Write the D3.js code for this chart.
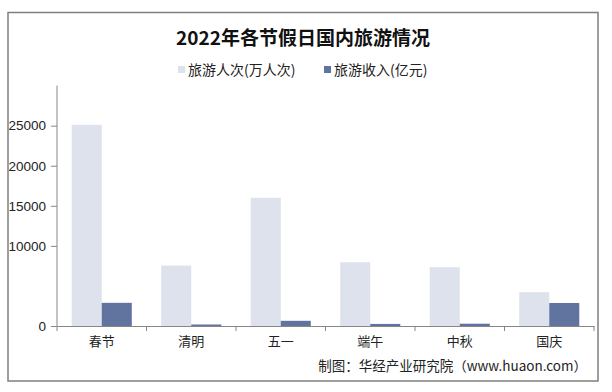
<!DOCTYPE html>
<html><head><meta charset="utf-8">
<script src="https://cdn.jsdelivr.net/npm/d3@7"></script>
<style>
body{margin:0;background:#fff;}
svg{display:block;}
</style></head>
<body>
<svg id="chart" width="612" height="392"></svg>
<script>
const categories = ["春节","清明","五一","端午","中秋","国庆"];
const visitors = [25100, 7541.9, 16000, 7961.1, 7340.9, 4220];
const revenue = [2892, 187.8, 646.8, 258.2, 286.8, 2872.1];
const seriesNames = ["旅游人次(万人次)","旅游收入(亿元)"];
const yTicks = [0, 10000, 15000, 20000, 25000];
const colors = ["#dde2ec", "#61749f"];

const svg = d3.select("#chart");
const W = 612, H = 392;
svg.append("rect").attr("width", W).attr("height", H).attr("fill", "#fff");
svg.append("rect").attr("x", 8).attr("y", 12.5).attr("width", 590).attr("height", 368.5)
  .attr("fill", "none").attr("stroke", "#7f7f7f").attr("stroke-width", 1.5);

const m = {left: 57, right: 594, top: 85.6, bottom: 326};
const x0 = d3.scaleBand().domain(categories).range([m.left, m.right]).padding(0);
const x1 = d3.scaleBand().domain([0,1]).range([0, x0.bandwidth()]).paddingInner(0).paddingOuter(0.49);
const y = d3.scaleLinear().domain([0, 30000]).range([m.bottom, m.top]);

const data = categories.map((c, i) => ({c, v: [visitors[i], revenue[i]]}));

const g = svg.append("g");
g.selectAll("g.cat").data(data).join("g").attr("class", "cat")
  .attr("transform", d => `translate(${x0(d.c)},0)`)
  .selectAll("rect").data(d => d.v.map((v, k) => ({v, k}))).join("rect")
  .attr("x", d => x1(d.k)).attr("width", x1.bandwidth())
  .attr("y", d => y(d.v)).attr("height", d => y(0) - y(d.v))
  .attr("fill", d => colors[d.k]);

// y axis
const yAxis = d3.axisLeft(y).tickValues(yTicks).tickSize(6).tickPadding(5).tickFormat(d3.format("d"));
const ya = svg.append("g").attr("transform", `translate(${m.left},0)`).call(yAxis);
ya.select(".domain").attr("stroke", "#868686").attr("d", `M-0,${m.top}V${m.bottom}`);
ya.selectAll(".tick line").attr("stroke", "#868686");
ya.selectAll("text").attr("font-family", "Liberation Sans, Arial, sans-serif").attr("font-size", 13.5).attr("fill", "#222");

// x axis
const xAxis = d3.axisBottom(x0).tickSize(0).tickPadding(11);
const xa = svg.append("g").attr("transform", `translate(0,${m.bottom})`).call(xAxis);
xa.select(".domain").attr("stroke", "#868686");
xa.selectAll("text").attr("font-family", "Noto Sans CJK SC, sans-serif").attr("font-size", 13).attr("fill", "#222");
xa.selectAll(".bt").data(d3.range(categories.length + 1)).join("line").attr("class", "bt")
  .attr("x1", i => m.left + i * x0.step()).attr("x2", i => m.left + i * x0.step())
  .attr("y1", 0).attr("y2", 5).attr("stroke", "#868686");

// title
svg.append("text").attr("x", 303).attr("y", 45).attr("text-anchor", "middle")
  .attr("font-family", "Noto Sans CJK SC, sans-serif").attr("font-weight", "bold")
  .attr("font-size", 19).attr("fill", "#111").text("2022年各节假日国内旅游情况");

// legend
const legX = [178, 324];
seriesNames.forEach((n, k) => {
  svg.append("rect").attr("x", legX[k]).attr("y", 66).attr("width", 7).attr("height", 7).attr("fill", colors[k]);
  svg.append("text").attr("x", legX[k] + 10).attr("y", 75).attr("font-family", "Noto Sans CJK SC, sans-serif")
    .attr("font-size", 14).attr("fill", "#222").text(n);
});

// source
svg.append("text").attr("x", 587).attr("y", 371).attr("text-anchor", "end")
  .attr("font-family", "Noto Sans CJK SC, sans-serif").attr("font-size", 13.5).attr("fill", "#222")
  .text("制图：华经产业研究院（www.huaon.com）");
</script>
</body></html>
